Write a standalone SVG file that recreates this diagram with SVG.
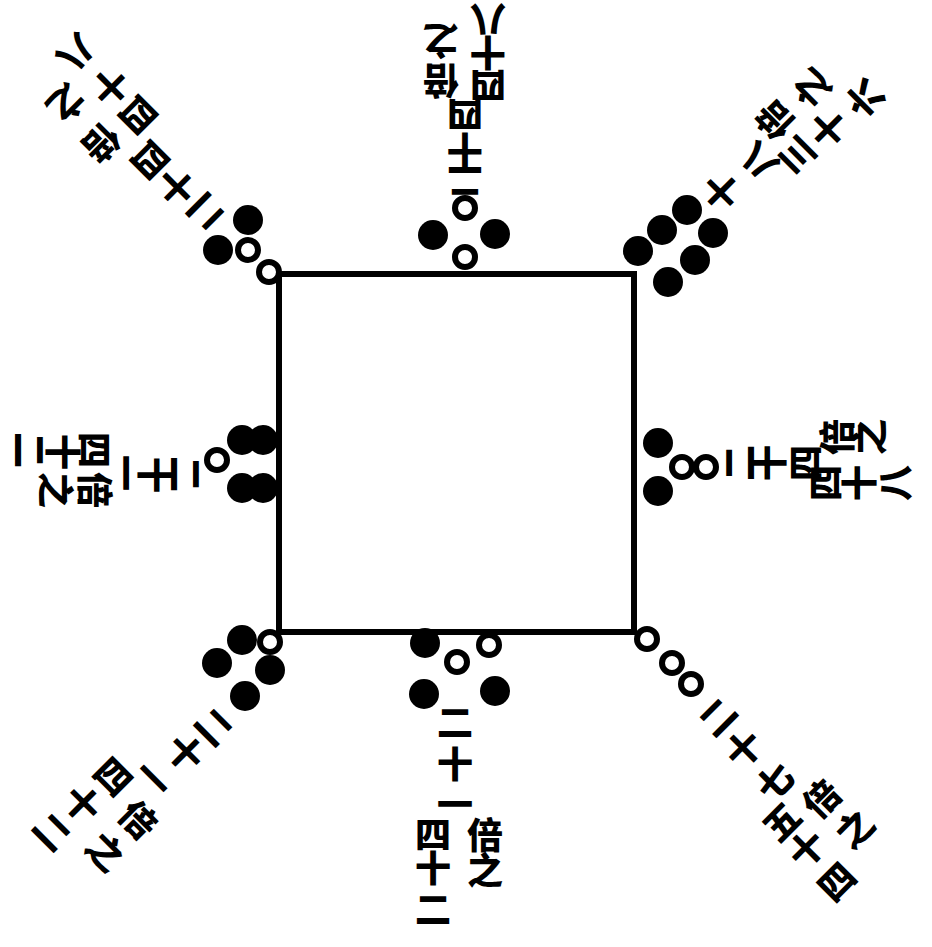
<svg xmlns="http://www.w3.org/2000/svg" width="932" height="947" viewBox="0 0 932 947">
<style>
.sq{fill:none;stroke:#000;stroke-width:6}
.b{fill:#000}
.o{fill:#fff;stroke:#000;stroke-width:6}
.t{font-family:"Noto Sans CJK SC","Noto Sans CJK TC",sans-serif;font-size:36px;font-weight:900;fill:#000;text-anchor:middle;dominant-baseline:central}
</style>
<rect width="932" height="947" fill="#fff"/>
<g id="square"><rect class="sq" x="279" y="274" width="355" height="358"/></g>

<g id="top">
<circle class="o" cx="465" cy="208" r="10"/>
<circle class="b" cx="433" cy="235" r="15"/>
<circle class="b" cx="495" cy="234" r="15"/>
<circle class="o" cx="465" cy="257" r="10"/>
<text class="t" transform="translate(465 184) rotate(180)">二</text>
<text class="t" transform="translate(465 152) rotate(180)">十</text>
<text class="t" transform="translate(465 117) rotate(180)">四</text>
<text class="t" transform="translate(488 88) rotate(180)">四</text>
<text class="t" transform="translate(488 55) rotate(180)">十</text>
<text class="t" transform="translate(488 22) rotate(180)">八</text>
<text class="t" transform="translate(441 83) rotate(180)">倍</text>
<text class="t" transform="translate(441 43) rotate(180)">之</text>
</g>

<g id="top-left">
<circle class="b" cx="248" cy="220" r="15"/>
<circle class="b" cx="218" cy="250" r="15"/>
<circle class="o" cx="248" cy="250" r="10"/>
<circle class="o" cx="269" cy="272" r="10"/>
<text class="t" transform="translate(208 214) rotate(135)">二</text>
<text class="t" transform="translate(178 188) rotate(135)">十</text>
<text class="t" transform="translate(152 162) rotate(135)">四</text>
<text class="t" transform="translate(140 117) rotate(135)">四</text>
<text class="t" transform="translate(112 88) rotate(135)">十</text>
<text class="t" transform="translate(78 55) rotate(135)">八</text>
<text class="t" transform="translate(103 145) rotate(135)">倍</text>
<text class="t" transform="translate(68 105) rotate(135)">之</text>
</g>

<g id="top-right">
<circle class="b" cx="687" cy="210" r="15"/>
<circle class="b" cx="662" cy="230" r="15"/>
<circle class="b" cx="638" cy="251" r="15"/>
<circle class="b" cx="713" cy="233" r="15"/>
<circle class="b" cx="695" cy="260" r="15"/>
<circle class="b" cx="668" cy="282" r="15"/>
<text class="t" transform="translate(720 193) rotate(-135)">十</text>
<text class="t" transform="translate(757 163) rotate(-135)">八</text>
<text class="t" transform="translate(773 122) rotate(-135)">倍</text>
<text class="t" transform="translate(810 90) rotate(-135)">之</text>
<text class="t" transform="translate(795 157) rotate(-135)">三</text>
<text class="t" transform="translate(827 130) rotate(-135)">十</text>
<text class="t" transform="translate(863 100) rotate(-135)">六</text>
</g>

<g id="left">
<circle class="o" cx="217" cy="460" r="10"/>
<circle class="b" cx="242" cy="440" r="15"/>
<circle class="b" cx="263" cy="440" r="15"/>
<circle class="b" cx="242" cy="488" r="15"/>
<circle class="b" cx="263" cy="488" r="15"/>
<text class="t" transform="translate(188 474) rotate(90)">二</text>
<text class="t" transform="translate(157 475) rotate(90)">十</text>
<text class="t" transform="translate(128 473) rotate(90)">一</text>
<text class="t" transform="translate(97 450) rotate(90)">四</text>
<text class="t" transform="translate(65 452) rotate(90)">十</text>
<text class="t" transform="translate(32 450) rotate(90)">二</text>
<text class="t" transform="translate(97 490) rotate(90)">倍</text>
<text class="t" transform="translate(58 490) rotate(90)">之</text>
</g>

<g id="right">
<circle class="b" cx="658" cy="443" r="15"/>
<circle class="b" cx="658" cy="491" r="15"/>
<circle class="o" cx="682" cy="467" r="10"/>
<circle class="o" cx="706" cy="467" r="10"/>
<text class="t" transform="translate(737 463) rotate(-90)">二</text>
<text class="t" transform="translate(767 463) rotate(-90)">十</text>
<text class="t" transform="translate(803 463) rotate(-90)">四</text>
<text class="t" transform="translate(835 437) rotate(-90)">倍</text>
<text class="t" transform="translate(867 437) rotate(-90)">之</text>
<text class="t" transform="translate(823 483) rotate(-90)">四</text>
<text class="t" transform="translate(857 483) rotate(-90)">十</text>
<text class="t" transform="translate(893 483) rotate(-90)">八</text>
</g>

<g id="bottom-left">
<circle class="b" cx="242" cy="640" r="15"/>
<circle class="b" cx="217" cy="663" r="15"/>
<circle class="b" cx="270" cy="670" r="15"/>
<circle class="b" cx="245" cy="696" r="15"/>
<circle class="o" cx="270" cy="642" r="10"/>
<text class="t" transform="translate(216 725) rotate(45)">二</text>
<text class="t" transform="translate(187 751) rotate(45)">十</text>
<text class="t" transform="translate(155 777) rotate(45)">一</text>
<text class="t" transform="translate(115 775) rotate(45)">四</text>
<text class="t" transform="translate(84 802) rotate(45)">十</text>
<text class="t" transform="translate(54 830) rotate(45)">二</text>
<text class="t" transform="translate(140 818) rotate(45)">倍</text>
<text class="t" transform="translate(107 850) rotate(45)">之</text>
</g>

<g id="bottom">
<circle class="b" cx="425" cy="643" r="15"/>
<circle class="o" cx="457" cy="662" r="10"/>
<circle class="o" cx="489" cy="645" r="10"/>
<circle class="b" cx="424" cy="694" r="15"/>
<circle class="b" cx="495" cy="691" r="15"/>
<text class="t" x="455" y="720">二</text>
<text class="t" x="455" y="762">十</text>
<text class="t" x="455" y="802">一</text>
<text class="t" x="433" y="832">四</text>
<text class="t" x="433" y="866">十</text>
<text class="t" x="433" y="907">二</text>
<text class="t" x="485" y="833">倍</text>
<text class="t" x="485" y="868">之</text>
</g>

<g id="bottom-right">
<circle class="o" cx="647" cy="639" r="10"/>
<circle class="o" cx="672" cy="663" r="10"/>
<circle class="o" cx="691" cy="684" r="10"/>
<text class="t" transform="translate(716 715) rotate(-45)">二</text>
<text class="t" transform="translate(742 747) rotate(-45)">十</text>
<text class="t" transform="translate(773 780) rotate(-45)">七</text>
<text class="t" transform="translate(820 797) rotate(-45)">倍</text>
<text class="t" transform="translate(853 827) rotate(-45)">之</text>
<text class="t" transform="translate(780 820) rotate(-45)">五</text>
<text class="t" transform="translate(805 847) rotate(-45)">十</text>
<text class="t" transform="translate(835 880) rotate(-45)">四</text>
</g>
</svg>
